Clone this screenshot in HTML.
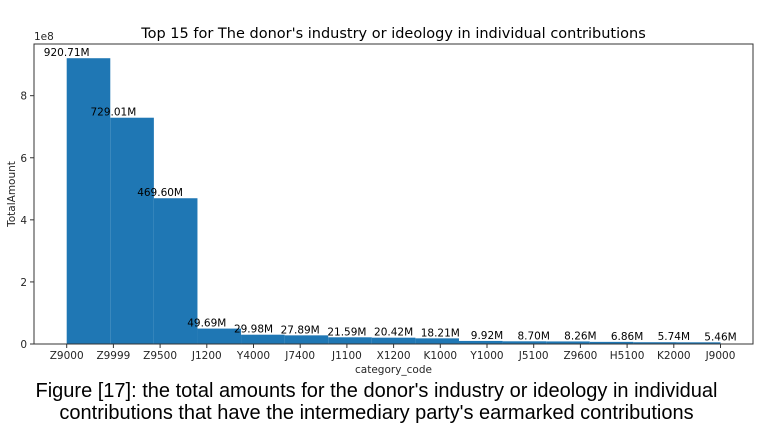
<!DOCTYPE html>
<html><head><meta charset="utf-8"><style>
body{margin:0;background:#fff;width:763px;height:432px;overflow:hidden;font-family:"DejaVu Sans","Liberation Sans",sans-serif}
svg text{font-family:"DejaVu Sans","Liberation Sans",sans-serif}
.cap{position:absolute;left:-5px;top:381px;width:763px;text-align:center;font-family:"Liberation Sans",Arial,sans-serif;font-size:20px;line-height:21.5px;color:#000;white-space:nowrap}
</style></head><body>
<svg id="chart" width="763" height="432" style="position:absolute;left:0;top:0"></svg>
<div class="cap">Figure [17]: the total amounts for the donor's industry or ideology in individual<br>contributions that have the intermediary party's earmarked contributions</div>
<script>
const categories=["Z9000","Z9999","Z9500","J1200","Y4000","J7400","J1100","X1200","K1000","Y1000","J5100","Z9600","H5100","K2000","J9000"];
const values=[920.71,729.01,469.60,49.69,29.98,27.89,21.59,20.42,18.21,9.92,8.70,8.26,6.86,5.74,5.46];
const valueLabels=["920.71M","729.01M","469.60M","49.69M","29.98M","27.89M","21.59M","20.42M","18.21M","9.92M","8.70M","8.26M","6.86M","5.74M","5.46M"];
const yTicks=[0,2,4,6,8];
const NS="http://www.w3.org/2000/svg";
const svg=document.getElementById('chart');
const L=34,R=753,T=44,B=344;
const x0=66.7,dx=46.7;
function xScale(i){return x0+dx*i;}
function yScale(v){return B-v/100*31.04;}
function el(t,a){const e=document.createElementNS(NS,t);for(const k in a)e.setAttribute(k,a[k]);svg.appendChild(e);return e;}
const n=categories.length;
const span=xScale(n-1)-xScale(0);
values.forEach((v,i)=>{
  const xa=xScale(0)+span*i/n, xb=xScale(0)+span*(i+1)/n;
  const r=el('rect',{x:xa,y:yScale(v),width:xb-xa,height:B-yScale(v),fill:'#1f77b4'});
  
  
});
values.forEach((v,i)=>{
  const t=el('text',{x:xScale(i),y:yScale(v)-2,'font-size':'10.5','text-anchor':'middle',fill:'#000'});
  t.textContent=valueLabels[i];
  
  
});
const fr=el('rect',{x:L,y:T,width:R-L,height:B-T,fill:'none',stroke:'#333','stroke-width':1});


categories.forEach((c,i)=>{
  const x=xScale(i);
  el('line',{x1:x,x2:x,y1:B,y2:B+4,stroke:'#333'});
  const t=el('text',{x:x,y:B+15,'font-size':'10.5','text-anchor':'middle',fill:'#262626'});
  t.textContent=c;
  
  
});
yTicks.forEach(v=>{
  const y=yScale(v*100);
  el('line',{x1:L-4,x2:L,y1:y,y2:y,stroke:'#333'});
  const t=el('text',{x:L-7,y:y+4,'font-size':'10.5','text-anchor':'end',fill:'#262626'});
  t.textContent=v;
  
  
});
const e8=el('text',{x:L,y:T-4,'font-size':'10.5',fill:'#262626'});e8.textContent='1e8';


const yt=el('text',{x:0,y:0,'font-size':'10.5','text-anchor':'middle',fill:'#262626',transform:'translate(15,'+((T+B)/2)+') rotate(-90)'});yt.textContent='TotalAmount';


const xt=el('text',{x:(L+R)/2,y:B+29,'font-size':'10.5','text-anchor':'middle',fill:'#262626'});xt.textContent='category_code';


const ti=el('text',{x:(L+R)/2,y:T-6,'font-size':'14.5','text-anchor':'middle',fill:'#000'});ti.textContent="Top 15 for The donor's industry or ideology in individual contributions";


</script>
</body></html>
